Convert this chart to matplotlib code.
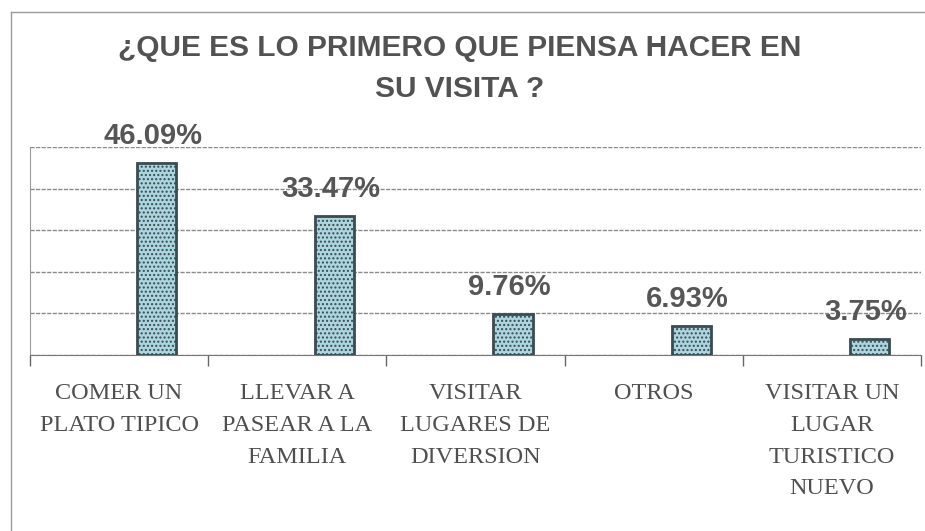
import matplotlib
matplotlib.use("Agg")
import matplotlib.pyplot as plt
from matplotlib.lines import Line2D

# data
categories = ["COMER UN\nPLATO TIPICO", "LLEVAR A\nPASEAR A LA\nFAMILIA",
              "VISITAR\nLUGARES DE\nDIVERSION", "OTROS",
              "VISITAR UN\nLUGAR\nTURISTICO\nNUEVO"]
values = [46.09, 33.47, 9.76, 6.93, 3.75]
labels = ["46.09%", "33.47%", "9.76%", "6.93%", "3.75%"]
title = "¿QUE ES LO PRIMERO QUE PIENSA HACER EN\nSU VISITA ?"

plt.rcParams['hatch.color'] = "#86bcc7"
plt.rcParams['hatch.linewidth'] = 1.0

fig = plt.figure(figsize=(9.25, 5.31), dpi=100)
ax = fig.add_axes([0.0324, 0.3315, 0.9633, 0.3917])

x = range(len(values))
xb = [i + 0.21 for i in x]
ax.bar(xb, values, width=0.22, color="#acd6df", edgecolor="#3b4b52",
       linewidth=2, hatch="....", zorder=3)

for xi, v, lab in zip(xb, values, labels):
    ax.annotate(lab, (xi - 0.02, v), xytext=(0, 19.5), textcoords="offset points",
                ha="center", va="center", fontsize=21, fontweight="bold",
                color="#565656", family="Liberation Sans")

ax.set_xlim(-0.5, 4.5)
ax.set_ylim(0, 50)
ax.set_yticks([0, 10, 20, 30, 40, 50])
ax.yaxis.grid(True, color="#8a8a8a", linewidth=1, linestyle=(0, (3, 1)), zorder=0)
ax.tick_params(axis="y", left=False, labelleft=False)

# category labels centred, tick marks between categories
ax.set_xticks(list(x))
ax.set_xticklabels(categories, fontsize=17.5, family="Liberation Serif",
                   color="#4f4f4f", linespacing=1.68, va="top")
ax.tick_params(axis="x", length=0, pad=20)
ax.set_xticks([-0.5, 0.5, 1.5, 2.5, 3.5, 4.5], minor=True)
ax.tick_params(axis="x", which="minor", length=8, width=1, color="#666666")

for s in ["top", "right"]:
    ax.spines[s].set_visible(False)
ax.spines["left"].set_color("#9a9a9a")
ax.spines["left"].set_linestyle((0, (2, 1)))
ax.spines["bottom"].set_color("#777777")

fig.text(0.497, 0.871, title, ha="center", va="center", fontsize=21.5,
         fontweight="bold", color="#525252", family="Liberation Sans",
         linespacing=1.55)

# chart border (top and left only visible)
fig.add_artist(Line2D([0.012, 1.0], [0.977, 0.977], color="#9a9a9a", linewidth=1))
fig.add_artist(Line2D([0.012, 0.012], [0.0, 0.977], color="#9a9a9a", linewidth=1))

fig.savefig("out.png", dpi=100)
